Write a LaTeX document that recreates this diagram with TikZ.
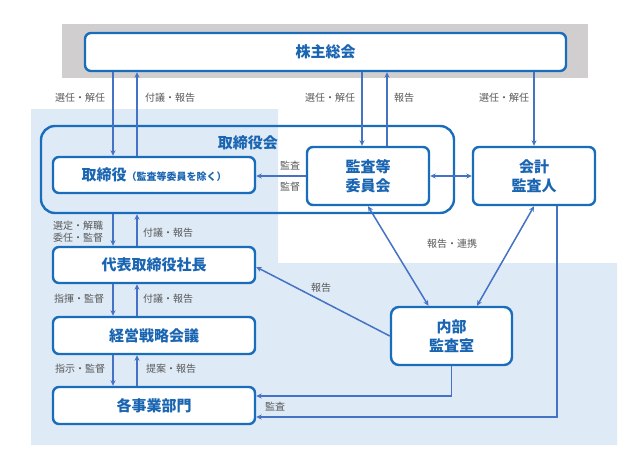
\documentclass[tikz,border=0pt]{standalone}
\usepackage{fontspec}
\setmainfont{Noto Sans CJK JP}
\usetikzlibrary{arrows.meta}
\definecolor{boxblue}{HTML}{1A6DBA}
\definecolor{txtblue}{HTML}{1A65B2}
\definecolor{arrblue}{HTML}{4472C4}
\definecolor{lblgray}{HTML}{595959}
\definecolor{bgblue}{HTML}{DEEAF6}
\definecolor{bggray}{HTML}{D0CECE}
\begin{document}
\begin{tikzpicture}[x=1pt,y=-1pt,
 box/.style={draw=boxblue,line width=2.4pt,fill=white,rounded corners=6pt,inner sep=0pt,
   font=\fontsize{15}{19}\selectfont\bfseries,text=txtblue,align=center},
 arr/.style={draw=arrblue,line width=1.5pt,-{Stealth[length=5.5pt,width=5pt]}},
 darr/.style={draw=arrblue,line width=1.5pt,{Stealth[length=5.5pt,width=5pt]}-{Stealth[length=5.5pt,width=5pt]}},
 lbl/.style={font=\fontsize{10}{12}\selectfont,text=lblgray,inner sep=0pt,align=left}]
\useasboundingbox (0,0) rectangle (626,469);
% backgrounds
\fill[bggray] (62,24) rectangle (588,78);
\fill[bgblue] (31,109) -- (278,109) -- (278,263) -- (617,263) -- (617,445) -- (31,445) -- cycle;
% columns
\coordinate (cA) at (113,0);
\coordinate (cB) at (137,0);
\coordinate (cC) at (362,0);
\coordinate (cD) at (387,0);
% board frame
\node[draw=boxblue,line width=2.4pt,rounded corners=14pt,minimum width=413pt,minimum height=87pt,inner sep=0pt] (board) at (247.5,169.5) {};
\node[anchor=east,inner sep=0pt,font=\fontsize{15}{19}\selectfont\bfseries,text=txtblue] (boardlbl) at (278,143) {取締役会};
% boxes
\node[box,minimum width=481pt,minimum height=38pt] (soukai) at (325.5,52) {株主総会};
\node[box,minimum width=202pt,minimum height=36pt] (tori) at (154,175) {取締役{\fontsize{10}{12}\selectfont（監査等委員を除く）}};
\node[box,minimum width=122pt,minimum height=58pt] (kansa) at (368,176) {監査等\\委員会};
\node[box,minimum width=122pt,minimum height=58pt] (kaikei) at (534,176) {会計\\監査人};
\node[box,minimum width=202pt,minimum height=36pt] (daihyo) at (154,265) {代表取締役社長};
\node[box,minimum width=202pt,minimum height=37pt] (keiei) at (154,335.5) {経営戦略会議};
\node[box,minimum width=202pt,minimum height=37pt] (jigyo) at (154,405.5) {各事業部門};
\node[box,minimum width=121pt,minimum height=58pt,rounded corners=8pt] (naibu) at (451.5,336) {内部\\監査室};
% connectors
\draw[arr] (soukai.south -| cA) -- (tori.north -| cA);
\draw[arr] (tori.north -| cB) -- (soukai.south -| cB);
\draw[arr] (soukai.south -| cC) -- (kansa.north -| cC);
\draw[arr] (kansa.north -| cD) -- (soukai.south -| cD);
\draw[arr] (soukai.south -| kaikei.north) -- (kaikei.north);
\draw[arr] (kansa.west) -- (kansa.west -| tori.east);
\draw[darr] (kansa.east) -- (kaikei.west);
\draw[arr] (board.south -| cA) -- (daihyo.north -| cA);
\draw[arr] (daihyo.north -| cB) -- (board.south -| cB);
\draw[arr] (daihyo.south -| cA) -- (keiei.north -| cA);
\draw[arr] (keiei.north -| cB) -- (daihyo.south -| cB);
\draw[arr] (keiei.south -| cA) -- (jigyo.north -| cA);
\draw[arr] (jigyo.north -| cB) -- (keiei.south -| cB);
\draw[darr] (kansa.south) -- ([xshift=-23pt]naibu.north);
\draw[darr] (kaikei.south) -- ([xshift=25.5pt]naibu.north);
\draw[arr] (naibu.west) -- ([yshift=-2pt]daihyo.east);
\draw[arr] (naibu.south) |- ([yshift=9.5pt]jigyo.east);
\draw[arr] ([xshift=23pt]kaikei.south) |- ([yshift=-11.5pt]jigyo.east);
% labels
\node[lbl] (l1) at (80,98) {選任・解任};
\node[lbl] (l2) at (170,98) {付議・報告};
\node[lbl] (l3) at (330,98) {選任・解任};
\node[lbl] (l4) at (404,98) {報告};
\node[lbl] (l5) at (504,98) {選任・解任};
\node[lbl] (l6) at (290,166) {監査};
\node[lbl] (l7) at (290,187) {監督};
\node[lbl,anchor=west] (l8) at (53,232) {選定・解職\\委任・監督};
\node[lbl] (l9) at (168,233) {付議・報告};
\node[lbl] (l10) at (79,299) {指揮・監督};
\node[lbl] (l11) at (168,299) {付議・報告};
\node[lbl] (l12) at (80,369) {指示・監督};
\node[lbl] (l13) at (171,369) {提案・報告};
\node[lbl] (l14) at (452,244) {報告・連携};
\node[lbl] (l15) at (321,288) {報告};
\node[lbl] (l16) at (275,407) {監査};
\end{tikzpicture}
\end{document}
